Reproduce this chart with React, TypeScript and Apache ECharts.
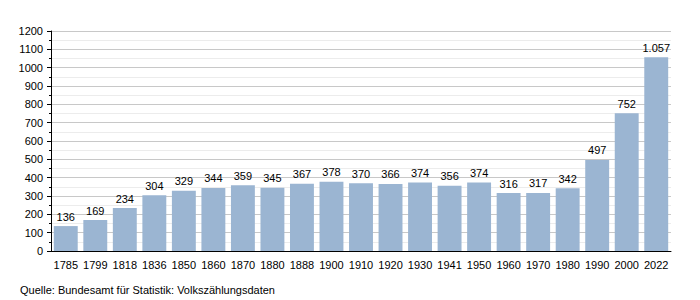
import React, { useEffect, useRef } from "react";
import * as echarts from "echarts";

const years = ["1785","1799","1818","1836","1850","1860","1870","1880","1888","1900","1910","1920","1930","1941","1950","1960","1970","1980","1990","2000","2022"];
const population = [136,169,234,304,329,344,359,345,367,378,370,366,374,356,374,316,317,342,497,752,1057];
const sourceText = "Quelle: Bundesamt für Statistik: Volkszählungsdaten";

const fmt = (v: number) => v.toLocaleString("de-DE");

export default function App() {
  const ref = useRef<HTMLDivElement>(null);
  useEffect(() => {
    const chart = echarts.init(ref.current!, null, { renderer: "svg" });
    chart.setOption({
      animation: false,
      textStyle: { fontFamily: "Liberation Sans, Arial, sans-serif" },
      grid: { left: 51, right: 29, top: 31, bottom: 49 },
      xAxis: {
        type: "category",
        data: years,
        axisLine: { lineStyle: { color: "#000", width: 1 } },
        axisTick: { show: false },
        axisLabel: { color: "#000", fontSize: 11, margin: 8, interval: 0 },
      },
      yAxis: {
        type: "value",
        min: 0,
        max: 1200,
        interval: 100,
        axisLine: { show: true, lineStyle: { color: "#000", width: 1 } },
        axisTick: { show: true, length: 4, lineStyle: { color: "#000" } },
        minorTick: { show: true, splitNumber: 2, length: 2, lineStyle: { color: "#000" } },
        axisLabel: { color: "#000", fontSize: 11, margin: 8, formatter: (v: number) => String(v) },
        splitLine: { lineStyle: { color: "#c8c8c8", width: 1 } },
        minorSplitLine: { show: true, lineStyle: { color: "#ececec", width: 1 } },
      },
      series: [
        {
          type: "bar",
          data: population,
          barCategoryGap: "19%",
          itemStyle: { color: "#9bb5d2" },
          label: {
            show: true,
            position: "top",
            color: "#000",
            fontSize: 11,
            distance: 4,
            formatter: (p: any) => fmt(p.value),
          },
        },
      ],
      graphic: [
        {
          type: "text",
          left: 20,
          top: 284,
          style: { text: sourceText, fontSize: 11, fill: "#000", fontFamily: "Liberation Sans, Arial, sans-serif" },
        },
      ],
    });
    return () => chart.dispose();
  }, []);
  return <div ref={ref} style={{ position: "absolute", left: 0, top: 0, width: 700, height: 300 }} />;
}
